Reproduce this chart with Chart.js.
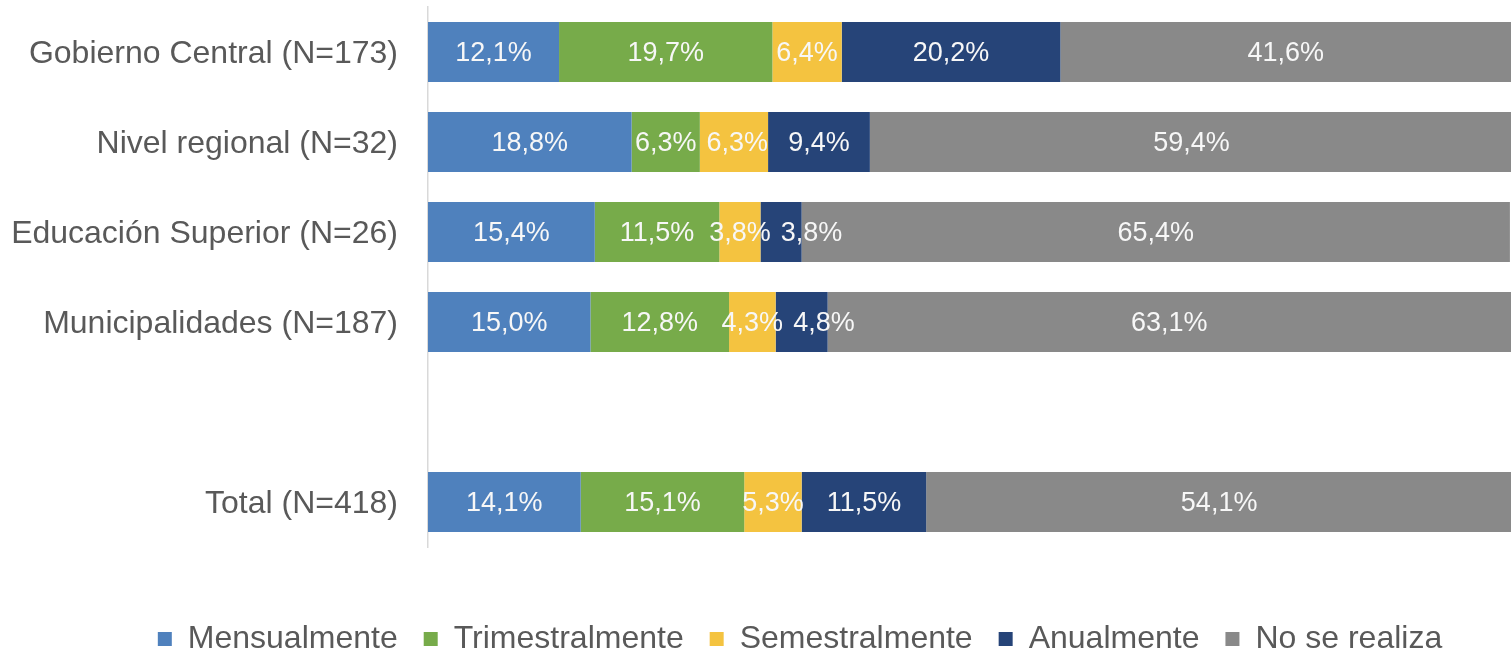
<!DOCTYPE html>
<html>
<head>
<meta charset="utf-8">
<script src="https://cdn.jsdelivr.net/npm/chart.js@4"></script>
<style>
  html, body { margin: 0; padding: 0; background: #ffffff; }
  canvas { display: block; }
</style>
</head>
<body>
<canvas id="chart" width="1511" height="652"></canvas>
<script>
(function () {
  "use strict";

  const categories = [
    "Gobierno Central (N=173)",
    "Nivel regional (N=32)",
    "Educación Superior (N=26)",
    "Municipalidades (N=187)",
    "",
    "Total (N=418)",
  ];
  const seriesNames = [
    "Mensualmente",
    "Trimestralmente",
    "Semestralmente",
    "Anualmente",
    "No se realiza",
  ];
  const mensualmente = [12.1, 18.8, 15.4, 15.0, null, 14.1];
  const trimestralmente = [19.7, 6.3, 11.5, 12.8, null, 15.1];
  const semestralmente = [6.4, 6.3, 3.8, 4.3, null, 5.3];
  const anualmente = [20.2, 9.4, 3.8, 4.8, null, 11.5];
  const noSeRealiza = [41.6, 59.4, 65.4, 63.1, null, 54.1];

  const SERIES_COLORS = ["#4f81bd", "#77ab4a", "#f4c340", "#264478", "#898989"];
  const FONT_FAMILY = '"Liberation Sans", Arial, sans-serif';
  const TEXT_COLOR = "#595959";
  const AXIS_LEFT = 428;
  const LEGEND_SHIFT = 89;
  const LABEL_GAP = 10;

  const seriesValues = [
    mensualmente,
    trimestralmente,
    semestralmente,
    anualmente,
    noSeRealiza,
  ];

  function formatPct(v) {
    return v.toFixed(1).replace(".", ",") + "%";
  }

  // percentage text in the middle of each segment; a label that would run
  // into the one before it in the same row is nudged to the right
  const segmentLabels = {
    id: "segmentLabels",
    afterDatasetsDraw(chart) {
      const ctx = chart.ctx;
      ctx.save();
      ctx.font = "27px " + FONT_FAMILY;
      ctx.fillStyle = "#f7f7f7";
      ctx.textAlign = "center";
      ctx.textBaseline = "middle";
      const rowRight = {};
      chart.data.datasets.forEach((ds, di) => {
        const meta = chart.getDatasetMeta(di);
        meta.data.forEach((bar, i) => {
          const v = ds.data[i];
          if (v === null || v === undefined) return;
          const text = formatPct(v);
          const w = ctx.measureText(text).width;
          const c = bar.getCenterPoint();
          let x = c.x;
          const prev = rowRight[i];
          if (prev !== undefined && x - w / 2 < prev + LABEL_GAP) {
            x = prev + LABEL_GAP + w / 2;
          }
          rowRight[i] = x + w / 2;
          ctx.fillText(text, x, c.y + 2);
        });
      });
      ctx.restore();
    },
  };

  // the legend in the source sits a bit right of the canvas centre
  const legendShift = {
    id: "legendShift",
    afterLayout(chart) {
      if (chart.legend) chart.legend.left += LEGEND_SHIFT;
    },
  };

  new Chart(document.getElementById("chart"), {
    type: "bar",
    data: {
      labels: categories,
      datasets: seriesNames.map((name, i) => ({
        label: name,
        data: seriesValues[i],
        backgroundColor: SERIES_COLORS[i],
        borderWidth: 0,
        categoryPercentage: 1,
        barPercentage: 0.667,
      })),
    },
    options: {
      indexAxis: "y",
      responsive: false,
      maintainAspectRatio: false,
      animation: false,
      events: [],
      layout: {
        padding: { top: 7, right: 0, bottom: -13, left: 0 },
      },
      plugins: {
        tooltip: { enabled: false },
        legend: {
          position: "bottom",
          labels: {
            boxWidth: 14,
            boxHeight: 14,
            padding: 26,
            color: TEXT_COLOR,
            font: { family: FONT_FAMILY, size: 32 },
          },
        },
      },
      scales: {
        x: {
          stacked: true,
          min: 0,
          max: 100,
          grid: { display: false },
          border: { display: false },
          ticks: { display: false },
          afterFit(scale) {
            scale.height = 50;
          },
        },
        y: {
          stacked: true,
          grid: { display: false },
          border: { display: true, color: "#d9d9d9", width: 1.5 },
          ticks: {
            padding: 22,
            labelOffset: 2,
            color: TEXT_COLOR,
            font: { family: FONT_FAMILY, size: 32 },
          },
          afterFit(scale) {
            scale.width = AXIS_LEFT;
            scale.paddingTop = 0;
            scale.paddingBottom = 0;
          },
        },
      },
    },
    plugins: [segmentLabels, legendShift],
  });
})();
</script>
</body>
</html>
